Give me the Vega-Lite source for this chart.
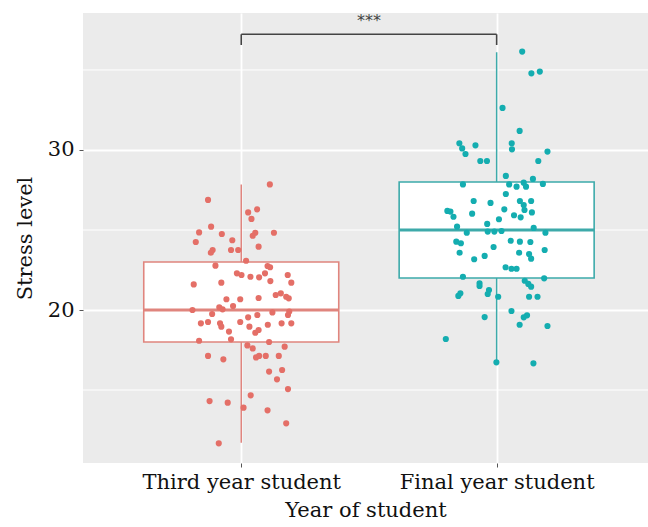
{
  "$schema": "https://vega.github.io/schema/vega-lite/v6.json",
  "width": 565,
  "height": 450,
  "autosize": "none",
  "padding": {"left": 83, "top": 13, "right": 0, "bottom": 64},
  "background": "white",
  "config": {
    "view": {"fill": "#EBEBEB", "stroke": null},
    "font": "DejaVu Serif",
    "axis": {
      "labelFont": "DejaVu Serif",
      "titleFont": "DejaVu Serif",
      "labelFontSize": 21,
      "titleFontSize": 21,
      "labelLimit": 0,
      "labelColor": "#111",
      "titleColor": "#111",
      "titleFontWeight": "normal",
      "domain": false,
      "tickColor": "#555",
      "tickSize": 4,
      "gridColor": "white",
      "gridWidth": 1.8,
      "gridOpacity": 1
    }
  },
  "datasets": {
    "points": [
      {"group": "Third year student", "pos": 1.112, "stress": 27.85},
      {"group": "Third year student", "pos": 0.870, "stress": 26.88},
      {"group": "Third year student", "pos": 1.027, "stress": 26.10},
      {"group": "Third year student", "pos": 1.062, "stress": 26.29},
      {"group": "Third year student", "pos": 1.040, "stress": 25.69},
      {"group": "Third year student", "pos": 0.882, "stress": 25.21},
      {"group": "Third year student", "pos": 0.835, "stress": 24.85},
      {"group": "Third year student", "pos": 0.924, "stress": 24.75},
      {"group": "Third year student", "pos": 1.055, "stress": 24.83},
      {"group": "Third year student", "pos": 1.045, "stress": 24.64},
      {"group": "Third year student", "pos": 1.128, "stress": 24.83},
      {"group": "Third year student", "pos": 0.822, "stress": 24.25},
      {"group": "Third year student", "pos": 0.965, "stress": 24.36},
      {"group": "Third year student", "pos": 1.068, "stress": 23.96},
      {"group": "Third year student", "pos": 0.888, "stress": 23.75},
      {"group": "Third year student", "pos": 0.881, "stress": 23.58},
      {"group": "Third year student", "pos": 0.960, "stress": 23.75},
      {"group": "Third year student", "pos": 0.988, "stress": 23.75},
      {"group": "Third year student", "pos": 1.019, "stress": 23.08},
      {"group": "Third year student", "pos": 0.899, "stress": 22.77},
      {"group": "Third year student", "pos": 1.103, "stress": 22.75},
      {"group": "Third year student", "pos": 1.113, "stress": 22.67},
      {"group": "Third year student", "pos": 1.093, "stress": 22.29},
      {"group": "Third year student", "pos": 0.983, "stress": 22.29},
      {"group": "Third year student", "pos": 1.001, "stress": 22.19},
      {"group": "Third year student", "pos": 1.036, "stress": 22.08},
      {"group": "Third year student", "pos": 1.070, "stress": 22.04},
      {"group": "Third year student", "pos": 1.114, "stress": 21.81},
      {"group": "Third year student", "pos": 1.182, "stress": 22.19},
      {"group": "Third year student", "pos": 1.196, "stress": 21.71},
      {"group": "Third year student", "pos": 0.814, "stress": 21.60},
      {"group": "Third year student", "pos": 0.922, "stress": 21.71},
      {"group": "Third year student", "pos": 0.942, "stress": 20.67},
      {"group": "Third year student", "pos": 0.996, "stress": 20.67},
      {"group": "Third year student", "pos": 1.068, "stress": 20.75},
      {"group": "Third year student", "pos": 1.135, "stress": 20.94},
      {"group": "Third year student", "pos": 1.155, "stress": 21.04},
      {"group": "Third year student", "pos": 1.176, "stress": 20.83},
      {"group": "Third year student", "pos": 1.186, "stress": 20.73},
      {"group": "Third year student", "pos": 0.809, "stress": 20.00},
      {"group": "Third year student", "pos": 0.914, "stress": 20.17},
      {"group": "Third year student", "pos": 0.927, "stress": 20.04},
      {"group": "Third year student", "pos": 0.968, "stress": 20.25},
      {"group": "Third year student", "pos": 0.886, "stress": 19.75},
      {"group": "Third year student", "pos": 1.063, "stress": 19.69},
      {"group": "Third year student", "pos": 1.027, "stress": 19.54},
      {"group": "Third year student", "pos": 1.122, "stress": 19.85},
      {"group": "Third year student", "pos": 1.183, "stress": 19.69},
      {"group": "Third year student", "pos": 1.188, "stress": 19.90},
      {"group": "Third year student", "pos": 0.842, "stress": 19.17},
      {"group": "Third year student", "pos": 0.870, "stress": 19.25},
      {"group": "Third year student", "pos": 0.917, "stress": 19.17},
      {"group": "Third year student", "pos": 0.922, "stress": 18.96},
      {"group": "Third year student", "pos": 0.996, "stress": 19.25},
      {"group": "Third year student", "pos": 1.032, "stress": 18.96},
      {"group": "Third year student", "pos": 1.055, "stress": 18.58},
      {"group": "Third year student", "pos": 1.068, "stress": 18.75},
      {"group": "Third year student", "pos": 1.104, "stress": 19.08},
      {"group": "Third year student", "pos": 1.158, "stress": 19.17},
      {"group": "Third year student", "pos": 1.196, "stress": 19.17},
      {"group": "Third year student", "pos": 0.952, "stress": 18.65},
      {"group": "Third year student", "pos": 0.960, "stress": 18.17},
      {"group": "Third year student", "pos": 0.835, "stress": 18.08},
      {"group": "Third year student", "pos": 1.109, "stress": 18.00},
      {"group": "Third year student", "pos": 1.170, "stress": 17.71},
      {"group": "Third year student", "pos": 1.024, "stress": 17.79},
      {"group": "Third year student", "pos": 1.045, "stress": 17.60},
      {"group": "Third year student", "pos": 0.870, "stress": 17.13},
      {"group": "Third year student", "pos": 0.930, "stress": 16.92},
      {"group": "Third year student", "pos": 1.058, "stress": 17.04},
      {"group": "Third year student", "pos": 1.070, "stress": 17.13},
      {"group": "Third year student", "pos": 1.096, "stress": 17.13},
      {"group": "Third year student", "pos": 1.147, "stress": 17.13},
      {"group": "Third year student", "pos": 1.109, "stress": 16.15},
      {"group": "Third year student", "pos": 1.160, "stress": 16.25},
      {"group": "Third year student", "pos": 1.140, "stress": 15.67},
      {"group": "Third year student", "pos": 1.183, "stress": 15.06},
      {"group": "Third year student", "pos": 1.037, "stress": 14.67},
      {"group": "Third year student", "pos": 0.876, "stress": 14.31},
      {"group": "Third year student", "pos": 0.947, "stress": 14.21},
      {"group": "Third year student", "pos": 1.009, "stress": 13.90},
      {"group": "Third year student", "pos": 1.103, "stress": 13.73},
      {"group": "Third year student", "pos": 1.176, "stress": 12.92},
      {"group": "Third year student", "pos": 0.912, "stress": 11.67},
      {"group": "Final year student", "pos": 2.100, "stress": 36.15},
      {"group": "Final year student", "pos": 2.136, "stress": 34.79},
      {"group": "Final year student", "pos": 2.169, "stress": 34.90},
      {"group": "Final year student", "pos": 2.023, "stress": 32.63},
      {"group": "Final year student", "pos": 2.090, "stress": 31.19},
      {"group": "Final year student", "pos": 1.854, "stress": 30.42},
      {"group": "Final year student", "pos": 1.865, "stress": 30.10},
      {"group": "Final year student", "pos": 1.878, "stress": 29.75},
      {"group": "Final year student", "pos": 1.917, "stress": 30.29},
      {"group": "Final year student", "pos": 2.059, "stress": 30.42},
      {"group": "Final year student", "pos": 2.060, "stress": 30.04},
      {"group": "Final year student", "pos": 2.199, "stress": 29.90},
      {"group": "Final year student", "pos": 1.936, "stress": 29.31},
      {"group": "Final year student", "pos": 1.962, "stress": 29.31},
      {"group": "Final year student", "pos": 2.163, "stress": 29.31},
      {"group": "Final year student", "pos": 2.036, "stress": 28.38},
      {"group": "Final year student", "pos": 2.142, "stress": 28.19},
      {"group": "Final year student", "pos": 2.106, "stress": 27.96},
      {"group": "Final year student", "pos": 2.049, "stress": 27.85},
      {"group": "Final year student", "pos": 2.078, "stress": 27.71},
      {"group": "Final year student", "pos": 2.115, "stress": 27.71},
      {"group": "Final year student", "pos": 2.181, "stress": 27.88},
      {"group": "Final year student", "pos": 1.868, "stress": 27.85},
      {"group": "Final year student", "pos": 2.036, "stress": 27.25},
      {"group": "Final year student", "pos": 1.910, "stress": 26.81},
      {"group": "Final year student", "pos": 1.976, "stress": 26.69},
      {"group": "Final year student", "pos": 2.091, "stress": 26.81},
      {"group": "Final year student", "pos": 2.135, "stress": 26.81},
      {"group": "Final year student", "pos": 2.106, "stress": 26.56},
      {"group": "Final year student", "pos": 1.807, "stress": 26.19},
      {"group": "Final year student", "pos": 1.819, "stress": 26.15},
      {"group": "Final year student", "pos": 1.831, "stress": 25.83},
      {"group": "Final year student", "pos": 1.904, "stress": 26.02},
      {"group": "Final year student", "pos": 2.030, "stress": 26.29},
      {"group": "Final year student", "pos": 2.068, "stress": 25.92},
      {"group": "Final year student", "pos": 2.094, "stress": 25.79},
      {"group": "Final year student", "pos": 2.109, "stress": 26.25},
      {"group": "Final year student", "pos": 2.138, "stress": 26.10},
      {"group": "Final year student", "pos": 1.963, "stress": 25.38},
      {"group": "Final year student", "pos": 2.009, "stress": 25.67},
      {"group": "Final year student", "pos": 1.845, "stress": 25.21},
      {"group": "Final year student", "pos": 2.145, "stress": 25.13},
      {"group": "Final year student", "pos": 1.965, "stress": 24.90},
      {"group": "Final year student", "pos": 1.991, "stress": 24.90},
      {"group": "Final year student", "pos": 2.019, "stress": 24.94},
      {"group": "Final year student", "pos": 2.191, "stress": 24.83},
      {"group": "Final year student", "pos": 1.883, "stress": 24.83},
      {"group": "Final year student", "pos": 1.842, "stress": 24.27},
      {"group": "Final year student", "pos": 1.860, "stress": 24.17},
      {"group": "Final year student", "pos": 1.855, "stress": 23.58},
      {"group": "Final year student", "pos": 1.988, "stress": 23.94},
      {"group": "Final year student", "pos": 2.055, "stress": 24.33},
      {"group": "Final year student", "pos": 2.091, "stress": 24.27},
      {"group": "Final year student", "pos": 2.132, "stress": 24.25},
      {"group": "Final year student", "pos": 2.188, "stress": 23.75},
      {"group": "Final year student", "pos": 2.088, "stress": 23.58},
      {"group": "Final year student", "pos": 2.127, "stress": 23.50},
      {"group": "Final year student", "pos": 2.135, "stress": 23.21},
      {"group": "Final year student", "pos": 1.912, "stress": 23.17},
      {"group": "Final year student", "pos": 1.953, "stress": 23.38},
      {"group": "Final year student", "pos": 2.035, "stress": 22.67},
      {"group": "Final year student", "pos": 2.058, "stress": 22.58},
      {"group": "Final year student", "pos": 2.078, "stress": 22.58},
      {"group": "Final year student", "pos": 1.868, "stress": 22.08},
      {"group": "Final year student", "pos": 2.186, "stress": 21.98},
      {"group": "Final year student", "pos": 2.110, "stress": 21.83},
      {"group": "Final year student", "pos": 2.124, "stress": 21.63},
      {"group": "Final year student", "pos": 2.135, "stress": 21.46},
      {"group": "Final year student", "pos": 1.933, "stress": 21.67},
      {"group": "Final year student", "pos": 1.933, "stress": 21.50},
      {"group": "Final year student", "pos": 1.970, "stress": 21.25},
      {"group": "Final year student", "pos": 1.965, "stress": 21.00},
      {"group": "Final year student", "pos": 2.006, "stress": 20.83},
      {"group": "Final year student", "pos": 1.858, "stress": 21.04},
      {"group": "Final year student", "pos": 1.850, "stress": 20.88},
      {"group": "Final year student", "pos": 2.127, "stress": 20.83},
      {"group": "Final year student", "pos": 2.160, "stress": 20.83},
      {"group": "Final year student", "pos": 2.058, "stress": 19.94},
      {"group": "Final year student", "pos": 1.953, "stress": 19.56},
      {"group": "Final year student", "pos": 2.119, "stress": 19.67},
      {"group": "Final year student", "pos": 2.106, "stress": 19.54},
      {"group": "Final year student", "pos": 2.090, "stress": 19.08},
      {"group": "Final year student", "pos": 2.199, "stress": 19.00},
      {"group": "Final year student", "pos": 1.801, "stress": 18.19},
      {"group": "Final year student", "pos": 1.999, "stress": 16.73},
      {"group": "Final year student", "pos": 2.144, "stress": 16.67}
    ],
    "stats": [
      {"group": "Third year student", "pos": 1, "lower": 11.7, "q1": 18.0, "median": 20.0, "q3": 23.0, "upper": 27.85},
      {"group": "Final year student", "pos": 2, "lower": 16.7, "q1": 22.0, "median": 25.0, "q3": 28.0, "upper": 36.1}
    ],
    "minor": [{"y": 15}, {"y": 25}, {"y": 35}],
    "bracket": [
      {"x": 1, "x2": 2, "y": 37.23, "y2": 37.23},
      {"x": 1, "x2": 1, "y": 37.23, "y2": 36.56},
      {"x": 2, "x2": 2, "y": 37.23, "y2": 36.56}
    ],
    "signif": [{"x": 1.5, "y": 38.05, "label": "***"}]
  },
  "layer": [
    {
      "data": {"name": "minor"},
      "mark": {"type": "rule", "color": "white", "strokeWidth": 1},
      "encoding": {
        "y": {
          "field": "y",
          "type": "quantitative",
          "scale": {"domain": [10.44, 38.56], "nice": false, "zero": false},
          "axis": {"values": [20, 30], "title": "Stress level", "titlePadding": 12, "labelPadding": 5}
        }
      }
    },
    {
      "data": {"name": "stats"},
      "mark": {"type": "rule", "strokeWidth": 1.5},
      "encoding": {
        "x": {
          "field": "pos",
          "type": "quantitative",
          "scale": {"domain": [0.4, 2.573], "nice": false, "zero": false},
          "axis": {
            "values": [1, 2],
            "title": "Year of student",
            "labelExpr": "datum.value == 1 ? 'Third year student' : 'Final year student'",
            "labelPadding": 4,
            "titlePadding": 7
          }
        },
        "y": {"field": "lower", "type": "quantitative"},
        "y2": {"field": "upper"},
        "color": {
          "field": "group",
          "type": "nominal",
          "scale": {"domain": ["Third year student", "Final year student"], "range": ["#E0857E", "#3DAAAA"]},
          "legend": null
        }
      }
    },
    {
      "data": {"name": "stats"},
      "mark": {"type": "bar", "width": 195, "fill": "white", "strokeWidth": 1.6},
      "encoding": {
        "x": {"field": "pos", "type": "quantitative"},
        "y": {"field": "q1", "type": "quantitative"},
        "y2": {"field": "q3"},
        "stroke": {
          "field": "group",
          "type": "nominal",
          "scale": {"domain": ["Third year student", "Final year student"], "range": ["#E0857E", "#3DAAAA"]},
          "legend": null
        }
      }
    },
    {
      "data": {"name": "stats"},
      "mark": {"type": "tick", "orient": "horizontal", "size": 195, "thickness": 2.8, "opacity": 1},
      "encoding": {
        "x": {"field": "pos", "type": "quantitative"},
        "y": {"field": "median", "type": "quantitative"},
        "color": {"field": "group", "type": "nominal", "legend": null}
      }
    },
    {
      "data": {"name": "points"},
      "mark": {"type": "circle", "size": 38, "opacity": 1},
      "encoding": {
        "x": {"field": "pos", "type": "quantitative"},
        "y": {"field": "stress", "type": "quantitative"},
        "fill": {
          "field": "group",
          "type": "nominal",
          "scale": {"domain": ["Third year student", "Final year student"], "range": ["#E46F67", "#14ADB0"]},
          "legend": null
        }
      }
    },
    {
      "data": {"name": "bracket"},
      "mark": {"type": "rule", "color": "#444", "strokeWidth": 1.6},
      "encoding": {
        "x": {"field": "x", "type": "quantitative"},
        "x2": {"field": "x2"},
        "y": {"field": "y", "type": "quantitative"},
        "y2": {"field": "y2"}
      }
    },
    {
      "data": {"name": "signif"},
      "mark": {"type": "text", "fontSize": 16, "color": "#444", "font": "DejaVu Sans", "baseline": "middle"},
      "encoding": {
        "x": {"field": "x", "type": "quantitative"},
        "y": {"field": "y", "type": "quantitative"},
        "text": {"field": "label"}
      }
    }
  ]
}
